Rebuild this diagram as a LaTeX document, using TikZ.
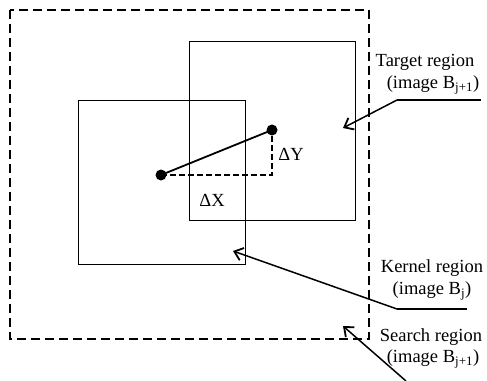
\documentclass[tikz,border=0pt]{standalone}
\usepackage{fontspec}
\setmainfont{Liberation Serif}
\usetikzlibrary{arrows.meta}
\begin{document}
\begin{tikzpicture}[x=1pt,y=-1pt,
  box/.style={draw,line width=1pt},
  searchbox/.style={draw,line width=2pt,dash pattern=on 9pt off 5pt},
  lead/.style={line width=1.5pt},
  pointer/.style={line width=1.5pt,-{Straight Barb[length=8pt,width=13pt,line width=1.8pt]}},
  dot/.style={circle,fill,inner sep=0pt,minimum size=11pt},
  lbl/.style={font=\fontsize{18.5}{21}\selectfont,inner sep=0pt,align=center}]
\useasboundingbox (0,0) rectangle (487,380);
\fill[white] (0,0) rectangle (487,380);
\draw[searchbox] (10,10) rectangle (369,339);
\draw[box] (189,41) rectangle (355,220);
\draw[box] (78,100) rectangle (245,264);
\node[dot] (p1) at (161,175) {};
\node[dot] (p2) at (272,130) {};
\coordinate (c) at (272,175);
\draw[line width=1.6pt,dash pattern=on 6pt off 3pt] (p1.center) -- (c) -- (p2.center);
\draw[line width=1.8pt] (p1.center) -- (p2.center);
\node[lbl] (dy) at (291,154) {ΔY};
\node[lbl] (dx) at (212,200) {ΔX};
% Target
\node[lbl] (t1) at (425,62) {Target region};
\node[lbl] (t2) at (433,85) {(image B\textsubscript{j+1})};
\coordinate (tl1) at (481,100);
\coordinate (tl2) at (397,100);
\coordinate (tt) at (343,128);
\draw[lead] (tl1) -- (tl2);
\draw[pointer] (tl2) -- (tt);
% Kernel
\node[lbl] (k1) at (432,268) {Kernel region};
\node[lbl] (k2) at (432,291) {(image B\textsubscript{j})};
\coordinate (kl1) at (467,309);
\coordinate (kl2) at (397,309);
\coordinate (kt) at (233,251);
\draw[lead] (kl1) -- (kl2);
\draw[pointer] (kl2) -- (kt);
% Search
\node[lbl] (s1) at (431,337) {Search region};
\node[lbl] (s2) at (433,359) {(image B\textsubscript{j+1})};
\coordinate (sl) at (406,381);
\coordinate (st) at (343,326);
\draw[pointer] (sl) -- (st);
\end{tikzpicture}
\end{document}
